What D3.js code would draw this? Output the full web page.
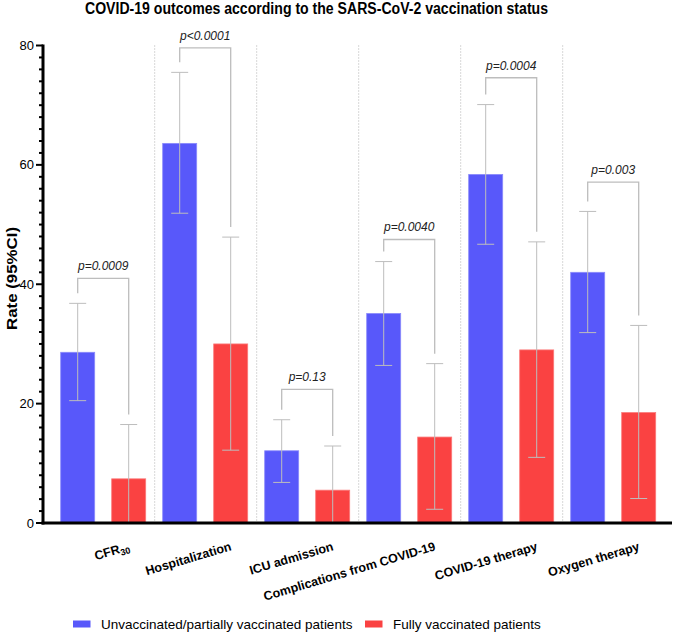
<!DOCTYPE html>
<html>
<head>
<meta charset="utf-8">
<script src="https://cdn.jsdelivr.net/npm/d3@7"></script>
<style>
  html, body { margin: 0; padding: 0; background: #fff; }
  svg { display: block; font-family: "Liberation Sans", Arial, sans-serif; }
</style>
</head>
<body>
<svg id="chart" width="675" height="632"></svg>
<script>
const categories = ["CFR30", "Hospitalization", "ICU admission", "Complications from COVID-19", "COVID-19 therapy", "Oxygen therapy"];
const seriesNames = ["Unvaccinated/partially vaccinated patients", "Fully vaccinated patients"];
const unvaccRate = [28.6, 63.6, 12.1, 35.1, 58.4, 42.0];
const unvaccLow  = [20.5, 51.9, 6.8, 26.4, 46.7, 31.9];
const unvaccHigh = [36.8, 75.5, 17.3, 43.8, 70.1, 52.2];
const vaccRate   = [7.4, 30.0, 5.5, 14.4, 29.0, 18.5];
const vaccLow    = [0, 12.2, 0, 2.3, 11.0, 4.1];
const vaccHigh   = [16.5, 47.9, 12.9, 26.7, 47.1, 33.1];
const pValues    = ["p=0.0009", "p<0.0001", "p=0.13", "p=0.0040", "p=0.0004", "p=0.003"];
const bracketLevel = [41.0, 79.6, 22.4, 47.5, 74.6, 57.1];
const yTicks = [0, 20, 40, 60, 80];

const colors = ["#5858FA", "#FA4242"];
const strokeColors = ["#8a8afb", "#fb7a7a"];
const gray = "#bdbdbd";

const svg = d3.select("#chart");

const x = d3.scaleBand().domain(categories).range([52.2, 664.2]).paddingInner(0).paddingOuter(0);
const xs = d3.scaleBand().domain([0, 1]).range([0, x.bandwidth()]).paddingInner(1/3).paddingOuter(1/6);
const y = d3.scaleLinear().domain([0, 80]).range([523, 45.5]);

// title
svg.append("text")
  .attr("x", 316.5).attr("y", 14)
  .attr("text-anchor", "middle")
  .attr("font-size", 16).attr("font-weight", "bold")
  .attr("textLength", 463).attr("lengthAdjust", "spacingAndGlyphs")
  .text("COVID-19 outcomes according to the SARS-CoV-2 vaccination status");

// separators
svg.append("g").selectAll("line")
  .data(categories.slice(1))
  .join("line")
  .attr("x1", d => x(d) + 0.5).attr("x2", d => x(d) + 0.5)
  .attr("y1", y(80)).attr("y2", y(0))
  .attr("stroke", "#b0b0b0").attr("stroke-width", 1)
  .attr("stroke-dasharray", "1,2");

// bars
const rows = categories.map((c, i) => ({
  c, i,
  vals: [
    {s: 0, v: unvaccRate[i], lo: unvaccLow[i], hi: unvaccHigh[i]},
    {s: 1, v: vaccRate[i], lo: vaccLow[i], hi: vaccHigh[i]}
  ]
}));

const groups = svg.append("g").selectAll("g")
  .data(rows).join("g")
  .attr("transform", d => `translate(${x(d.c)},0)`);

groups.selectAll("rect")
  .data(d => d.vals).join("rect")
  .attr("x", d => xs(d.s))
  .attr("width", xs.bandwidth())
  .attr("y", d => y(d.v))
  .attr("height", d => y(0) - y(d.v))
  .attr("fill", d => colors[d.s])
  .attr("stroke", d => strokeColors[d.s])
  .attr("stroke-width", 0.8);

// error bars
const capW = 17;
groups.each(function(d) {
  const g = d3.select(this);
  d.vals.forEach(e => {
    const cx = xs(e.s) + xs.bandwidth() / 2;
    g.append("line").attr("x1", cx).attr("x2", cx)
      .attr("y1", y(e.lo)).attr("y2", y(e.hi))
      .attr("stroke", gray).attr("stroke-width", 1);
    [e.lo, e.hi].forEach(v => {
      g.append("line").attr("x1", cx - capW / 2).attr("x2", cx + capW / 2)
        .attr("y1", y(v)).attr("y2", y(v))
        .attr("stroke", gray).attr("stroke-width", 1);
    });
  });
  // bracket
  const lx = xs(0) + xs.bandwidth() / 2;
  const rx = xs(1) + xs.bandwidth() / 2;
  const by = y(bracketLevel[d.i]);
  const gap = 10;
  g.append("path")
    .attr("d", `M${lx},${y(unvaccHigh[d.i]) - gap}V${by}H${rx}V${y(vaccHigh[d.i]) - gap}`)
    .attr("fill", "none").attr("stroke", gray).attr("stroke-width", 1.3);
  g.append("text")
    .attr("x", (lx + rx) / 2).attr("y", by - 8)
    .attr("text-anchor", "middle")
    .attr("font-size", 12).attr("font-style", "italic")
    .attr("fill", "#222")
    .text(pValues[d.i]);
});

// y axis
const yAxisG = svg.append("g").attr("transform", "translate(43,0)");
yAxisG.append("line").attr("x1", 0).attr("x2", 0).attr("y1", y(80) - 1).attr("y2", y(0) + 1.5)
  .attr("stroke", "#000").attr("stroke-width", 3);
const minor = d3.range(0, 81, 2).filter(v => v % 20 !== 0);
yAxisG.selectAll("line.minor").data(minor).join("line").attr("class", "minor")
  .attr("x1", -4).attr("x2", 0).attr("y1", d => y(d)).attr("y2", d => y(d))
  .attr("stroke", "#000").attr("stroke-width", 2);
yAxisG.selectAll("line.major").data(yTicks).join("line").attr("class", "major")
  .attr("x1", -7).attr("x2", 0).attr("y1", d => y(d)).attr("y2", d => y(d))
  .attr("stroke", "#000").attr("stroke-width", 2);
yAxisG.selectAll("text").data(yTicks).join("text")
  .attr("x", -9).attr("y", d => y(d)).attr("dy", "0.35em")
  .attr("text-anchor", "end").attr("font-size", 13)
  .text(d => d);

// x axis line
svg.append("line").attr("x1", 41.5).attr("x2", 672).attr("y1", y(0)).attr("y2", y(0))
  .attr("stroke", "#000").attr("stroke-width", 3);

// y label
svg.append("text")
  .attr("transform", `translate(17,278.5) rotate(-90)`)
  .attr("text-anchor", "middle")
  .attr("font-size", 15).attr("font-weight", "bold")
  .attr("textLength", 103).attr("lengthAdjust", "spacingAndGlyphs")
  .text("Rate (95%CI)");

// x labels
const xl = svg.append("g").selectAll("text")
  .data(categories).join("text")
  .attr("transform", d => `translate(${x(d) + x.bandwidth() / 2 + 27},550) rotate(-16.5)`)
  .attr("text-anchor", "end")
  .attr("font-size", 12.5).attr("font-weight", "bold");
xl.each(function(d) {
  const t = d3.select(this);
  if (d === "CFR30") {
    t.append("tspan").text("CFR");
    t.append("tspan").attr("font-size", 9).attr("dy", 3).text("30");
  } else {
    t.text(d);
  }
});

// legend
const legendX = [73, 365];
const lg = svg.append("g").selectAll("g").data(seriesNames).join("g")
  .attr("transform", (d, i) => `translate(${legendX[i]},620.5)`);
lg.append("rect").attr("width", 17.5).attr("height", 7).attr("fill", (d, i) => colors[i]);
lg.append("text").attr("x", 28).attr("y", 8).attr("font-size", 13.5).text(d => d);
</script>
</body>
</html>
